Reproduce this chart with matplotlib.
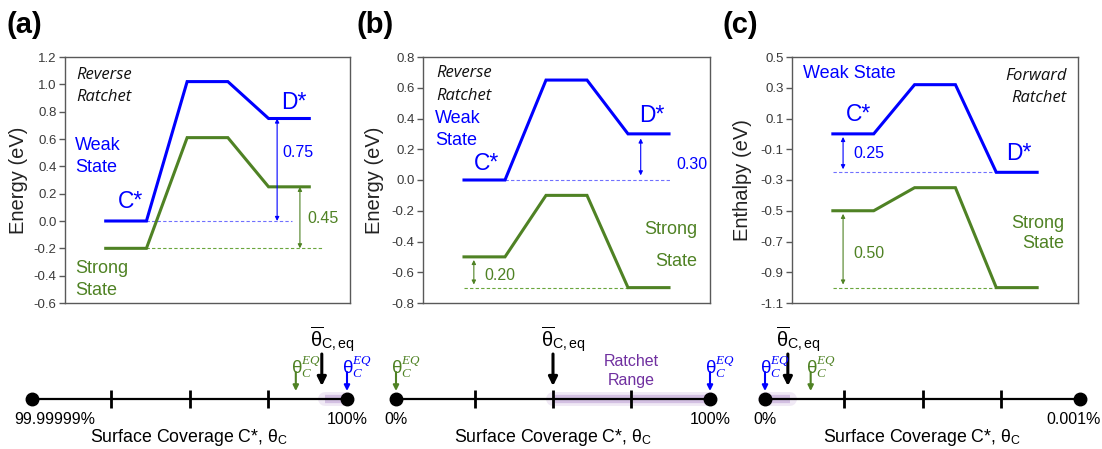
import matplotlib
matplotlib.use('Agg')
import matplotlib.pyplot as plt
import numpy as np

plt.rcParams['font.family'] = ['Liberation Sans', 'DejaVu Sans']
plt.rcParams['mathtext.fontset'] = 'custom'
plt.rcParams['mathtext.rm'] = 'Liberation Sans'
plt.rcParams['mathtext.it'] = 'Liberation Serif:italic'
plt.rcParams['mathtext.bf'] = 'Liberation Sans:bold'

# ---------------- data ----------------
steps = [1, 2, 3, 4, 5, 6]
weak_a = [0.0, 0.0, 1.02, 1.02, 0.75, 0.75]
strong_a = [-0.2, -0.2, 0.61, 0.61, 0.25, 0.25]
weak_b = [0.0, 0.0, 0.65, 0.65, 0.30, 0.30]
strong_b = [-0.5, -0.5, -0.1, -0.1, -0.7, -0.7]
weak_c = [0.0, 0.0, 0.32, 0.32, -0.25, -0.25]
strong_c = [-0.5, -0.5, -0.35, -0.35, -1.0, -1.0]

yticks_a = [-0.6, -0.4, -0.2, 0.0, 0.2, 0.4, 0.6, 0.8, 1.0, 1.2]
yticks_b = [-0.8, -0.6, -0.4, -0.2, 0.0, 0.2, 0.4, 0.6, 0.8]
yticks_c = [-1.1, -0.9, -0.7, -0.5, -0.3, -0.1, 0.1, 0.3, 0.5]

ylabels = ['Energy (eV)', 'Energy (eV)', 'Enthalpy (eV)']
panel_labels = ['(a)', '(b)', '(c)']
ratchet_names = ['Reverse', 'Reverse', 'Forward']

gap_a = ['0.75', '0.45']
gap_b = ['0.30', '0.20']
gap_c = ['0.25', '0.50']

# number lines (positions on a 0..4 line with ticks at 1,2,3)
nl_ticks = [1, 2, 3]
nl_end_labels = [['99.99999%', '100%'], ['0%', '100%'], ['0%', '0.001%']]
theta_eq_bar = [3.68, 2.0, 0.29]
theta_green = [3.35, 0.0, 0.58]
theta_blue = [4.0, 4.0, 0.0]
ratchet_range = [(3.72, 4.0), (2.0, 4.0), (0.0, 0.32)]

BLUE = '#0000FF'
GREEN = '#4F8224'
PURPLE = '#7030A0'
DBLUE = '#7070FF'
DGREEN = '#6AA63C'
SPINE = '#595959'

W, H = 1102, 449
fig = plt.figure(figsize=(W / 100, H / 100), dpi=100)


def px_axes(l, t, r, b):
    return fig.add_axes([l / W, 1 - b / H, (r - l) / W, (b - t) / H])


def fmt(v):
    s = f'{v:.1f}'
    return '0.0' if s == '-0.0' else s


def setup_energy(ax, ticks, ylab, lab_off):
    ax.set_xlim(0, 7)
    ax.set_ylim(ticks[0], ticks[-1])
    ax.set_xticks([])
    ax.set_yticks(ticks)
    ax.set_yticklabels([fmt(t) for t in ticks])
    for sp in ax.spines.values():
        sp.set_color(SPINE)
        sp.set_linewidth(1.0)
    ax.tick_params(axis='y', direction='out', length=4, width=1, color=SPINE,
                   labelsize=9.5, labelcolor='#3a3a3a', pad=2)
    ax.set_ylabel(ylab, fontsize=14.5, color='#222222')
    w_px = ax.get_position().width * W
    ax.yaxis.set_label_coords(-lab_off / w_px, 0.5)


def gap_arrow(ax, x, y0, y1, color):
    ax.annotate('', xy=(x, y1), xytext=(x, y0),
                arrowprops=dict(arrowstyle='<|-|>', lw=0.8, color=color,
                                mutation_scale=6, shrinkA=0, shrinkB=0))


axA = px_axes(65, 57, 350, 303)
axB = px_axes(423, 57, 710, 303)
axC = px_axes(792, 57, 1078, 303)

for ax, ticks, ylab, off in zip([axA, axB, axC], [yticks_a, yticks_b, yticks_c], ylabels, [37, 39, 40]):
    setup_energy(ax, ticks, ylab, off)

fs_state = 13
fs_cd = 16.5
fs_rat = 12
fs_gap = 11.5
RAT = dict(family='Open Sans', style='italic', fontsize=fs_rat, va='center', color='#111111')

# ----- panel (a) -----
ax = axA
ax.plot([2, 5.58], [weak_a[0], weak_a[0]], color=DBLUE, lw=0.8, ls=(0, (3, 2)))
ax.plot([2, 6.3], [strong_a[0], strong_a[0]], color=DGREEN, lw=0.8, ls=(0, (3, 2)))
ax.plot(steps, weak_a, color=BLUE, lw=2.2, solid_joinstyle='miter')
ax.plot(steps, strong_a, color=GREEN, lw=2.2, solid_joinstyle='miter')
gap_arrow(ax, 5.21, weak_a[0], weak_a[-1], BLUE)
gap_arrow(ax, 5.77, strong_a[0], strong_a[-1], GREEN)
ax.text(5.35, 0.50, gap_a[0], color=BLUE, fontsize=fs_gap, va='center')
ax.text(5.95, 0.02, gap_a[1], color=GREEN, fontsize=fs_gap, va='center')
ax.text(0.27, 1.068, ratchet_names[0], **RAT)
ax.text(0.27, 0.905, 'Ratchet', **RAT)
ax.text(0.24, 0.55, 'Weak', color=BLUE, fontsize=fs_state, va='center')
ax.text(0.24, 0.39, 'State', color=BLUE, fontsize=fs_state, va='center')
ax.text(0.24, -0.345, 'Strong', color=GREEN, fontsize=fs_state, va='center')
ax.text(0.24, -0.505, 'State', color=GREEN, fontsize=fs_state, va='center')
ax.text(1.6, 0.14, 'C*', color=BLUE, fontsize=fs_cd, ha='center', va='center')
ax.text(5.63, 0.865, 'D*', color=BLUE, fontsize=fs_cd, ha='center', va='center')

# ----- panel (b) -----
ax = axB
ax.plot([2, 6.05], [weak_b[0], weak_b[0]], color=DBLUE, lw=0.8, ls=(0, (3, 2)))
ax.plot([1, 5], [strong_b[-1], strong_b[-1]], color=DGREEN, lw=0.8, ls=(0, (3, 2)))
ax.plot(steps, weak_b, color=BLUE, lw=2.2, solid_joinstyle='miter')
ax.plot(steps, strong_b, color=GREEN, lw=2.2, solid_joinstyle='miter')
gap_arrow(ax, 5.31, weak_b[0] + 0.03, weak_b[-1] - 0.03, BLUE)
gap_arrow(ax, 1.24, strong_b[-1] + 0.02, strong_b[0] - 0.02, GREEN)
ax.text(6.17, 0.10, gap_b[0], color=BLUE, fontsize=fs_gap, va='center')
ax.text(1.5, -0.618, gap_b[1], color=GREEN, fontsize=fs_gap, va='center')
ax.text(0.33, 0.696, ratchet_names[1], **RAT)
ax.text(0.33, 0.546, 'Ratchet', **RAT)
ax.text(0.3, 0.40, 'Weak', color=BLUE, fontsize=fs_state, va='center')
ax.text(0.3, 0.26, 'State', color=BLUE, fontsize=fs_state, va='center')
ax.text(6.7, -0.325, 'Strong', color=GREEN, fontsize=fs_state, va='center', ha='right')
ax.text(6.7, -0.53, 'State', color=GREEN, fontsize=fs_state, va='center', ha='right')
ax.text(1.55, 0.11, 'C*', color=BLUE, fontsize=fs_cd, ha='center', va='center')
ax.text(5.58, 0.42, 'D*', color=BLUE, fontsize=fs_cd, ha='center', va='center')

# ----- panel (c) -----
ax = axC
ax.plot([1, 5], [weak_c[-1], weak_c[-1]], color=DBLUE, lw=0.8, ls=(0, (3, 2)))
ax.plot([1, 5], [strong_c[-1], strong_c[-1]], color=DGREEN, lw=0.8, ls=(0, (3, 2)))
ax.plot(steps, weak_c, color=BLUE, lw=2.2, solid_joinstyle='miter')
ax.plot(steps, strong_c, color=GREEN, lw=2.2, solid_joinstyle='miter')
gap_arrow(ax, 1.25, weak_c[0] - 0.02, weak_c[-1] + 0.02, BLUE)
gap_arrow(ax, 1.25, strong_c[0] - 0.02, strong_c[-1] + 0.02, GREEN)
ax.text(1.5, -0.125, gap_c[0], color=BLUE, fontsize=fs_gap, va='center')
ax.text(1.5, -0.78, gap_c[1], color=GREEN, fontsize=fs_gap, va='center')
ax.text(6.73, 0.376, ratchet_names[2], ha='right', **RAT)
ax.text(6.73, 0.233, 'Ratchet', ha='right', **RAT)
ax.text(0.27, 0.395, 'Weak State', color=BLUE, fontsize=fs_state, va='center')
ax.text(6.66, -0.58, 'Strong', color=GREEN, fontsize=fs_state, va='center', ha='right')
ax.text(6.66, -0.716, 'State', color=GREEN, fontsize=fs_state, va='center', ha='right')
ax.text(1.62, 0.123, 'C*', color=BLUE, fontsize=fs_cd, ha='center', va='center')
ax.text(5.56, -0.13, 'D*', color=BLUE, fontsize=fs_cd, ha='center', va='center')

# panel labels
for lab, xp in zip(panel_labels, [7, 357, 723]):
    fig.text(xp / W, 1 - 25 / H, lab, fontsize=21, fontweight='bold', ha='left', va='center')

# ---------------- number lines ----------------
nl_extents = [(32, 347), (396, 710), (765, 1080)]
LY = 399
for i, (l, r) in enumerate(nl_extents):
    ax = px_axes(l, 315, r, 449)
    ax.set_xlim(0, 4)
    ax.set_ylim(449, 315)
    ax.axis('off')
    r0, r1 = ratchet_range[i]
    ax.plot([r0, r1], [LY, LY], color=PURPLE, lw=10, alpha=0.10, solid_capstyle='round', clip_on=False)
    ax.plot([r0, r1], [LY, LY], color=PURPLE, lw=6, alpha=0.22, solid_capstyle='butt', clip_on=False)
    ax.plot([0, 4], [LY, LY], color='black', lw=1.6, clip_on=False)
    ax.plot(nl_ticks, [LY] * len(nl_ticks), ls='none', marker='|', ms=13, mew=2, color='black')
    ax.plot([0, 4], [LY, LY], ls='none', marker='o', ms=9, color='black', clip_on=False)

    left_lab, right_lab = nl_end_labels[i]
    if i == 0:
        ax.annotate(left_lab, xy=(0, 420), xytext=(-12.5, 0), textcoords='offset points',
                    ha='left', va='center', fontsize=11.5, annotation_clip=False)
    else:
        ax.annotate(left_lab, xy=(0, 420), ha='center', va='center', fontsize=11.5, annotation_clip=False)
    if i == 2:
        ax.annotate(right_lab, xy=(4, 420), xytext=(15, 0), textcoords='offset points',
                    ha='right', va='center', fontsize=11.5, annotation_clip=False)
    else:
        ax.annotate(right_lab, xy=(4, 420), ha='center', va='center', fontsize=11.5, annotation_clip=False)

    ax.text(2, 437, r'Surface Coverage C*, θ$_{\mathrm{C}}$', ha='center', va='center', fontsize=12.8)

    xb = theta_eq_bar[i]
    ax.annotate('', xy=(xb, 386), xytext=(xb, 354),
                arrowprops=dict(arrowstyle='-|>', lw=2.2, color='black', mutation_scale=13,
                                shrinkA=0, shrinkB=0), annotation_clip=False)
    ax.annotate(r'$\overline{\mathrm{θ}}_{\mathrm{C,eq}}$', xy=(xb, 347), xytext=(-8.5, 0),
                textcoords='offset points', ha='left', va='baseline', fontsize=14.5,
                annotation_clip=False)

    for xv, col in [(theta_green[i], GREEN), (theta_blue[i], BLUE)]:
        ax.annotate('', xy=(xv, 391), xytext=(xv, 372),
                    arrowprops=dict(arrowstyle='-|>', lw=1.5, color=col, mutation_scale=8,
                                    shrinkA=0, shrinkB=0), annotation_clip=False)
        ax.annotate(r'θ$_{C}^{EQ}$', xy=(xv, 373), xytext=(-3.5, 0), textcoords='offset points',
                    ha='left', va='baseline', fontsize=13.5, color=col, annotation_clip=False)

    if i == 1:
        cx = (r0 + r1) / 2
        ax.text(cx, 362, 'Ratchet', color=PURPLE, ha='center', va='center', fontsize=11.5)
        ax.text(cx, 380, 'Range', color=PURPLE, ha='center', va='center', fontsize=11.5)

fig.savefig('out.png', dpi=100)
